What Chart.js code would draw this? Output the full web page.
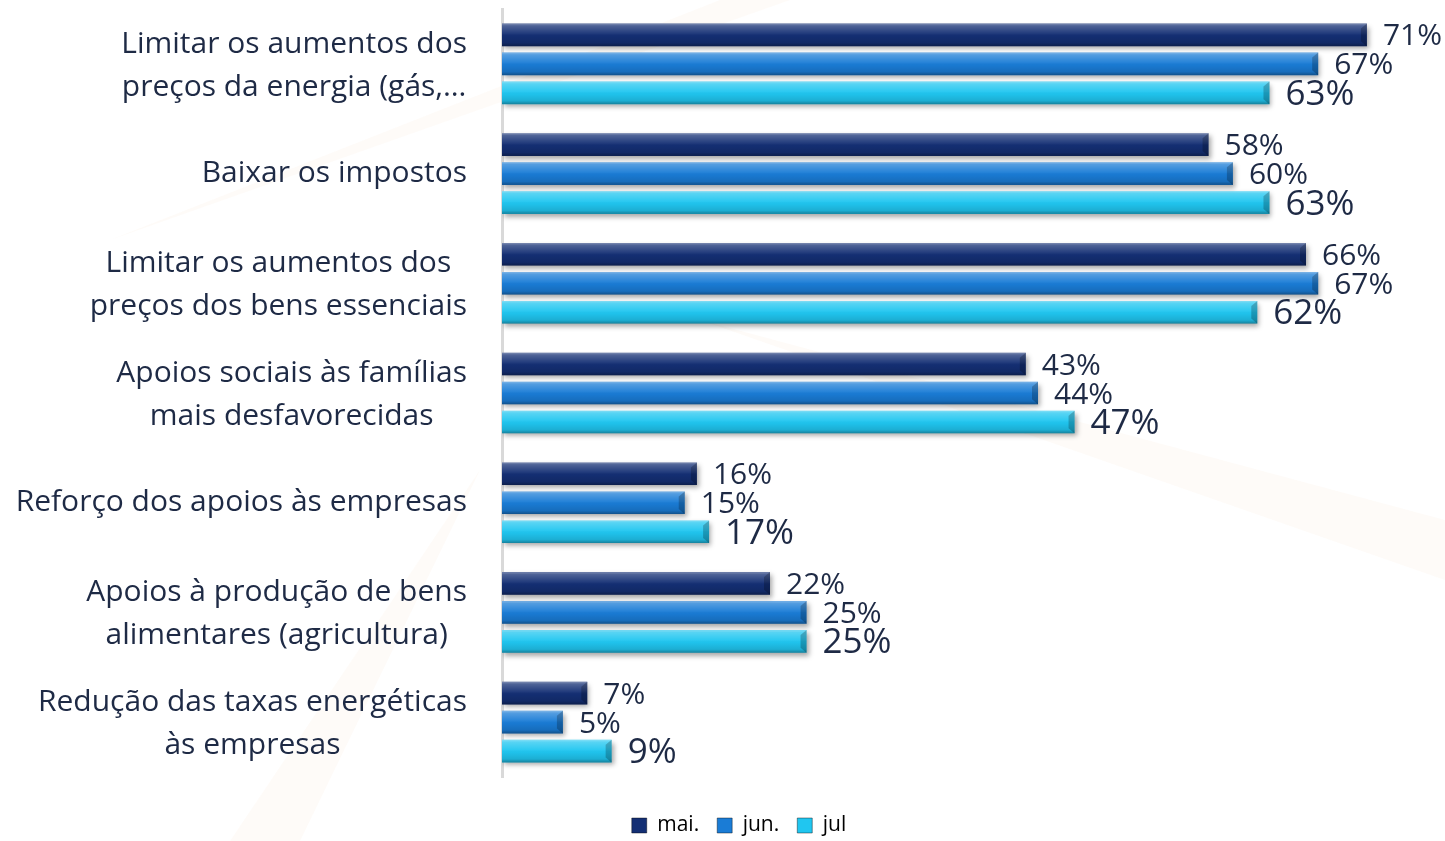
<!DOCTYPE html>
<html>
<head>
<meta charset="utf-8">
<script src="https://cdn.jsdelivr.net/npm/chart.js@4.4.1/dist/chart.umd.min.js"></script>
<style>
  html, body { margin: 0; padding: 0; background: #ffffff; }
  #wrap { width: 1445px; height: 841px; position: relative; }
</style>
</head>
<body>
<div id="wrap"><canvas id="myChart"></canvas></div>
<script>
// categorias e valores (%)
const categories = [
    ['Limitar os aumentos dos', 'preços da energia (gás,…'],
    ['Baixar os impostos'],
    ['Limitar os aumentos dos', 'preços dos bens essenciais'],
    ['Apoios sociais às famílias', 'mais desfavorecidas'],
    ['Reforço dos apoios às empresas'],
    ['Apoios à produção de bens', 'alimentares (agricultura)'],
    ['Redução das taxas energéticas', 'às empresas']
];
const seriesNames = ['mai.', 'jun.', 'jul'];
const mai = [71, 58, 66, 43, 16, 22, 7];
const jun = [67, 60, 67, 44, 15, 25, 5];
const jul = [63, 63, 62, 47, 17, 25, 9];
const colors = ['#142f74', '#1a7cd6', '#20c6f0'];
const labelSizes = [30, 30, 35];

const textColor = '#1e2a45';
const legendPad = 18;

// fundo com marca de água muito ténue
const watermark = {
    id: 'watermark',
    beforeDraw(chart) {
        const ctx = chart.ctx;
        ctx.save();
        ctx.fillStyle = 'rgba(235, 190, 130, 0.06)';
        ctx.beginPath();
        ctx.moveTo(720, 0); ctx.lineTo(790, 0); ctx.lineTo(110, 240); ctx.closePath();
        ctx.fill();
        ctx.beginPath();
        ctx.moveTo(700, 320); ctx.lineTo(1445, 520); ctx.lineTo(1445, 580); ctx.closePath();
        ctx.fill();
        ctx.beginPath();
        ctx.moveTo(480, 470); ctx.lineTo(300, 841); ctx.lineTo(230, 841); ctx.closePath();
        ctx.fill();
        ctx.restore();
    }
};

// sombra + relevo das barras, rótulos de dados e rótulos das categorias
const bars3d = {
    id: 'bars3d',
    beforeDatasetsDraw(chart) {
        const ctx = chart.ctx;
        ctx.save();
        ctx.shadowColor = 'rgba(0, 0, 0, 0.35)';
        ctx.shadowBlur = 5;
        ctx.shadowOffsetX = 2;
        ctx.shadowOffsetY = 3;
    },
    afterDatasetsDraw(chart) {
        const ctx = chart.ctx;
        ctx.restore();
        chart.data.datasets.forEach((ds, d) => {
            const meta = chart.getDatasetMeta(d);
            meta.data.forEach((el, i) => {
                const p = el.getProps(['x', 'y', 'base', 'height'], true);
                const top = p.y - p.height / 2;
                const bottom = p.y + p.height / 2;
                const left = p.base;
                const right = p.x;
                const g = ctx.createLinearGradient(0, top, 0, bottom);
                g.addColorStop(0, 'rgba(255,255,255,0.45)');
                g.addColorStop(0.1, 'rgba(255,255,255,0.25)');
                g.addColorStop(0.45, 'rgba(255,255,255,0.05)');
                g.addColorStop(0.55, 'rgba(0,0,0,0.02)');
                g.addColorStop(0.85, 'rgba(0,0,0,0.12)');
                g.addColorStop(1, 'rgba(0,0,0,0.35)');
                ctx.save();
                ctx.fillStyle = g;
                ctx.fillRect(left, top, right - left, bottom - top);
                // bisel na ponta
                ctx.fillStyle = 'rgba(0,0,0,0.22)';
                ctx.beginPath();
                ctx.moveTo(right - 6, top + 5);
                ctx.lineTo(right, top);
                ctx.lineTo(right, bottom);
                ctx.lineTo(right - 6, bottom - 5);
                ctx.closePath();
                ctx.fill();
                ctx.restore();

                // rótulo de dados
                ctx.save();
                ctx.fillStyle = textColor;
                ctx.font = labelSizes[d] + 'px "Open Sans"';
                ctx.textAlign = 'left';
                ctx.textBaseline = 'middle';
                ctx.fillText(ds.data[i] + '%', right + 16, p.y + 2);
                ctx.restore();
            });
        });
    },
    afterDraw(chart) {
        const ctx = chart.ctx;
        const yScale = chart.scales.y;
        ctx.save();
        ctx.fillStyle = textColor;
        ctx.font = '30px "Open Sans"';
        ctx.textAlign = 'center';
        ctx.textBaseline = 'middle';
        categories.forEach((lines, i) => {
            const y = yScale.getPixelForValue(i);
            const w = Math.max(...lines.map(t => ctx.measureText(t).width));
            const cx = 467 - w / 2;
            lines.forEach((t, j) => {
                const ly = y + (j - (lines.length - 1) / 2) * 43 + (lines.length > 1 ? 2 : 0);
                ctx.fillText(t, cx, ly);
            });
        });
        ctx.restore();
    },
    afterLayout(chart) {
        // legenda mais abaixo e ligeiramente à direita, como no original
        const lg = chart.legend;
        const shift = 815 - (lg.top + legendPad);
        lg.top += shift; lg.bottom += shift;
        lg.left += 19; lg.right += 19;
    }
};

const ctx = document.getElementById('myChart').getContext('2d');

var myChart = new Chart(ctx, {
    type: 'bar',
    data: {
        labels: categories,
        datasets: [{
            label: seriesNames[0],
            backgroundColor: colors[0],
            data: mai
        }, {
            label: seriesNames[1],
            backgroundColor: colors[1],
            data: jun
        }, {
            label: seriesNames[2],
            backgroundColor: colors[2],
            data: jul
        }]
    },
    options: {
        indexAxis: 'y',
        responsive: true,
        maintainAspectRatio: false,
        animation: false,
        categoryPercentage: 0.793,
        barPercentage: 0.78,
        layout: {
            padding: { top: 9, right: 5, bottom: 15, left: 0 }
        },
        scales: {
            x: {
                display: false,
                min: 0,
                max: 77
            },
            y: {
                ticks: { display: false },
                grid: { display: false },
                border: { display: true, color: '#d9d9d9', width: 3 },
                afterFit(scale) { scale.width = 502; }
            }
        },
        plugins: {
            tooltip: { enabled: false },
            legend: {
                display: true,
                position: 'bottom',
                labels: {
                    boxWidth: 15,
                    boxHeight: 15,
                    padding: legendPad,
                    color: textColor,
                    font: { family: '"Open Sans"', size: 21 },
                    generateLabels(chart) {
                        return chart.data.datasets.map((ds, i) => ({
                            text: ds.label,
                            fillStyle: colors[i],
                            strokeStyle: 'rgba(0,0,0,0.4)',
                            lineWidth: 1,
                            datasetIndex: i
                        }));
                    }
                }
            }
        }
    },
    plugins: [watermark, bars3d]
});
</script>
</body>
</html>
